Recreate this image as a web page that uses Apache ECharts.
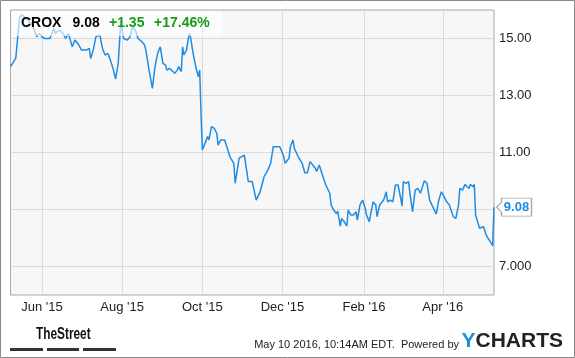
<!DOCTYPE html>
<html>
<head>
<meta charset="utf-8">
<script src="https://cdn.jsdelivr.net/npm/echarts@6/dist/echarts.min.js"></script>
<style>
  html, body { margin: 0; padding: 0; background: #fff; }
  #chart { width: 575px; height: 358px; }
</style>
</head>
<body>
<div id="chart"></div>
<script>
// ---- data ----
const ticker = 'CROX';
const lastPrice = '9.08';
const change = '+1.35';
const changePct = '+17.46%';

const dates = [
  '2015-05-08','2015-05-12','2015-05-14','2015-05-15','2015-05-17','2015-05-18','2015-05-21','2015-05-24','2015-05-26','2015-05-28','2015-05-30',
  '2015-06-01','2015-06-03','2015-06-07','2015-06-10','2015-06-11','2015-06-14','2015-06-17','2015-06-19','2015-06-21','2015-06-24','2015-06-26','2015-06-29',
  '2015-07-01','2015-07-05','2015-07-07','2015-07-08','2015-07-10','2015-07-12','2015-07-15','2015-07-17','2015-07-19','2015-07-21','2015-07-23','2015-07-25','2015-07-27','2015-07-29','2015-07-31',
  '2015-08-01','2015-08-02','2015-08-05','2015-08-07','2015-08-09','2015-08-11','2015-08-13','2015-08-16','2015-08-18','2015-08-19','2015-08-21','2015-08-24','2015-08-26','2015-08-28','2015-08-30',
  '2015-09-01','2015-09-03','2015-09-04','2015-09-06','2015-09-07','2015-09-10','2015-09-12','2015-09-13','2015-09-15','2015-09-16','2015-09-17','2015-09-19','2015-09-21','2015-09-22','2015-09-24','2015-09-26','2015-09-28','2015-09-29','2015-09-30',
  '2015-10-01','2015-10-03','2015-10-05','2015-10-06','2015-10-08','2015-10-10','2015-10-12','2015-10-13','2015-10-15','2015-10-18','2015-10-20','2015-10-22','2015-10-25','2015-10-26','2015-10-29',
  '2015-11-02','2015-11-05','2015-11-08','2015-11-11','2015-11-14','2015-11-15','2015-11-17','2015-11-20','2015-11-22','2015-11-24','2015-11-29','2015-11-30',
  '2015-12-02','2015-12-03','2015-12-06','2015-12-07','2015-12-09','2015-12-10','2015-12-13','2015-12-16','2015-12-18','2015-12-20','2015-12-22','2015-12-26','2015-12-27','2015-12-29','2015-12-31',
  '2016-01-03','2016-01-06','2016-01-07','2016-01-09','2016-01-11','2016-01-12','2016-01-14','2016-01-15','2016-01-17','2016-01-19','2016-01-20','2016-01-22','2016-01-24','2016-01-26','2016-01-27','2016-01-29','2016-01-31',
  '2016-02-02','2016-02-03','2016-02-05','2016-02-08','2016-02-10','2016-02-11','2016-02-13','2016-02-16','2016-02-18','2016-02-19','2016-02-21','2016-02-23','2016-02-25','2016-02-27','2016-02-29',
  '2016-03-01','2016-03-02','2016-03-04','2016-03-06','2016-03-07','2016-03-09','2016-03-11','2016-03-13','2016-03-15','2016-03-18','2016-03-20','2016-03-22','2016-03-25','2016-03-27','2016-03-29','2016-03-31',
  '2016-04-02','2016-04-04','2016-04-06','2016-04-09','2016-04-11','2016-04-13','2016-04-14','2016-04-16','2016-04-18','2016-04-21','2016-04-22','2016-04-24','2016-04-25','2016-04-26','2016-04-29',
  '2016-05-02','2016-05-04','2016-05-05','2016-05-08','2016-05-09','2016-05-10'
];
const prices = [
  14.01,14.30,15.30,15.77,15.82,15.86,15.65,15.53,15.30,15.06,15.18,
  15.06,15.00,15.00,15.36,15.18,15.30,15.18,15.00,15.18,14.71,14.95,14.77,
  14.60,14.60,14.65,14.30,14.60,15.06,15.12,14.65,14.42,14.48,14.25,13.95,13.58,14.13,15.65,
  15.30,15.00,14.95,15.06,15.41,15.30,15.00,14.89,14.77,14.60,14.01,13.25,14.01,14.48,14.71,
  14.13,14.07,13.89,13.95,13.89,13.78,13.89,14.01,13.84,14.71,14.42,14.60,15.18,15.06,14.48,14.01,13.66,13.89,12.38,
  11.09,11.32,11.56,11.44,11.91,11.85,11.67,11.26,11.44,11.44,11.15,10.85,10.62,9.92,10.80,
  10.91,9.98,9.98,9.33,9.62,9.80,10.15,10.39,10.62,11.20,11.20,11.15,
  10.85,10.62,10.80,11.20,11.44,11.15,10.85,10.62,10.29,10.29,10.68,10.45,10.33,10.56,10.27,
  9.86,9.57,9.16,8.98,8.86,8.94,8.42,8.69,8.57,8.42,8.98,8.81,8.81,8.92,8.63,9.16,9.33,
  9.04,8.81,8.57,9.27,9.16,8.75,9.16,9.33,9.62,9.27,9.33,9.27,9.86,9.86,9.39,
  9.12,9.98,9.92,9.98,9.57,8.92,9.68,9.74,9.57,10.01,9.92,9.33,9.04,8.84,9.33,9.62,
  9.45,9.27,9.16,8.75,8.69,9.16,9.74,9.68,9.88,9.74,9.88,9.80,9.88,8.81,8.34,
  8.40,8.11,8.02,7.81,7.72,9.08
];

const xTickDates = ['2015-06-01','2015-08-01','2015-10-01','2015-12-01','2016-02-01','2016-04-01'];
const xTickLabels = ["Jun '15","Aug '15","Oct '15","Dec '15","Feb '16","Apr '16"];
const yGridValues = [7, 9, 11, 13, 15];
const yLabelValues = [7, 11, 13, 15];
const yLabelTexts = ['7.000', '11.00', '13.00', '15.00'];

const footerText = 'May 10 2016, 10:14AM EDT.  Powered by';

// ---- chart ----
const FONT = '"Liberation Sans", Arial, sans-serif';
const BLUE = '#1f8ce4';
const GREEN = '#169c16';

const ts = d => Date.parse(d + 'T00:00:00Z');
const seriesData = dates.map((d, i) => [ts(d), prices[i]]);
const xTickTs = xTickDates.map(ts);

const chart = echarts.init(document.getElementById('chart'), null, { renderer: 'canvas' });

chart.setOption({
  animation: false,
  backgroundColor: '#fff',
  grid: {
    left: 10.5, right: 81, top: 10, bottom: 63,
    show: true, backgroundColor: '#f7f7f7', borderColor: '#a8a8a8', borderWidth: 1,
    outerBoundsMode: 'none'
  },
  xAxis: {
    type: 'value',
    min: ts(dates[0]),
    max: ts(dates[dates.length - 1]),
    axisLine: { show: false },
    axisTick: { show: false, customValues: xTickTs },
    splitLine: { show: true, lineStyle: { color: '#dadada', width: 1 } },
    axisLabel: {
      customValues: xTickTs,
      margin: 6,
      fontFamily: FONT, fontSize: 13, color: '#222',
      formatter: function (v) {
        const i = xTickTs.indexOf(v);
        return i >= 0 ? xTickLabels[i] : '';
      }
    }
  },
  yAxis: {
    type: 'value',
    position: 'right',
    min: 6, max: 16,
    axisLine: { show: false },
    axisTick: { show: false, customValues: yGridValues },
    splitLine: { show: true, lineStyle: { color: '#dadada', width: 1 } },
    axisLabel: {
      customValues: yLabelValues,
      margin: 5,
      fontFamily: FONT, fontSize: 13, color: '#222',
      formatter: function (v) {
        const i = yLabelValues.indexOf(v);
        return i >= 0 ? yLabelTexts[i] : '';
      }
    }
  },
  series: [{
    type: 'line',
    data: seriesData,
    showSymbol: false,
    symbol: 'none',
    lineStyle: { color: BLUE, width: 1.5 },
    itemStyle: { color: BLUE },
    markPoint: {
      silent: true,
      symbol: 'path://M0,9L5,4L5,0L35,0L35,18L5,18L5,14Z',
      symbolSize: [35, 18],
      symbolOffset: [20, 0],
      itemStyle: { color: '#fff', borderColor: '#a8a8a8', borderWidth: 1 },
      label: {
        show: true, position: 'inside', offset: [2.5, 0],
        formatter: lastPrice,
        color: BLUE, fontFamily: FONT, fontSize: 13, fontWeight: 'bold'
      },
      data: [{ coord: seriesData[seriesData.length - 1] }]
    }
  }],
  graphic: [
    { type: 'rect', z: 100, silent: true,
      shape: { x: 0.5, y: 0.5, width: 574, height: 357 },
      style: { fill: 'none', stroke: '#8a8a8a', lineWidth: 1 } },
    { type: 'rect', z: 100, silent: true,
      shape: { x: 11, y: 11, width: 211, height: 25 },
      style: { fill: 'rgba(255,255,255,0.62)' } },
    { type: 'text', z: 101, left: 21, top: 16,
      style: { text: ticker, fill: '#000', font: 'bold 14px ' + FONT } },
    { type: 'text', z: 101, left: 72.5, top: 16,
      style: { text: lastPrice, fill: '#000', font: 'bold 14px ' + FONT } },
    { type: 'text', z: 101, left: 109, top: 16,
      style: { text: change, fill: GREEN, font: 'bold 14px ' + FONT } },
    { type: 'text', z: 101, left: 154, top: 16,
      style: { text: changePct, fill: GREEN, font: 'bold 14px ' + FONT } },
    { type: 'text', z: 101, x: 36, y: 327, scaleX: 0.74, scaleY: 1, originX: 0, originY: 0,
      style: { text: 'TheStreet', fill: '#111', font: 'bold 16px ' + FONT,
               textVerticalAlign: 'top', verticalAlign: 'top', align: 'left' } },
    { type: 'rect', z: 101, shape: { x: 10, y: 348, width: 33, height: 3 }, style: { fill: '#333' } },
    { type: 'rect', z: 101, shape: { x: 47, y: 348, width: 32, height: 3 }, style: { fill: '#333' } },
    { type: 'rect', z: 101, shape: { x: 83, y: 348, width: 33, height: 3 }, style: { fill: '#333' } },
    { type: 'text', z: 101, right: 116, top: 339,
      style: { text: footerText, fill: '#222', font: '11px ' + FONT } },
    { type: 'text', z: 101, right: 12, top: 331,
      style: {
        text: '{y|Y}{c|CHARTS}',
        rich: {
          y: { fill: '#1a8fdc', font: 'bold 21px ' + FONT },
          c: { fill: '#222', font: 'bold 21px ' + FONT }
        }
      } }
  ]
});
</script>
</body>
</html>
